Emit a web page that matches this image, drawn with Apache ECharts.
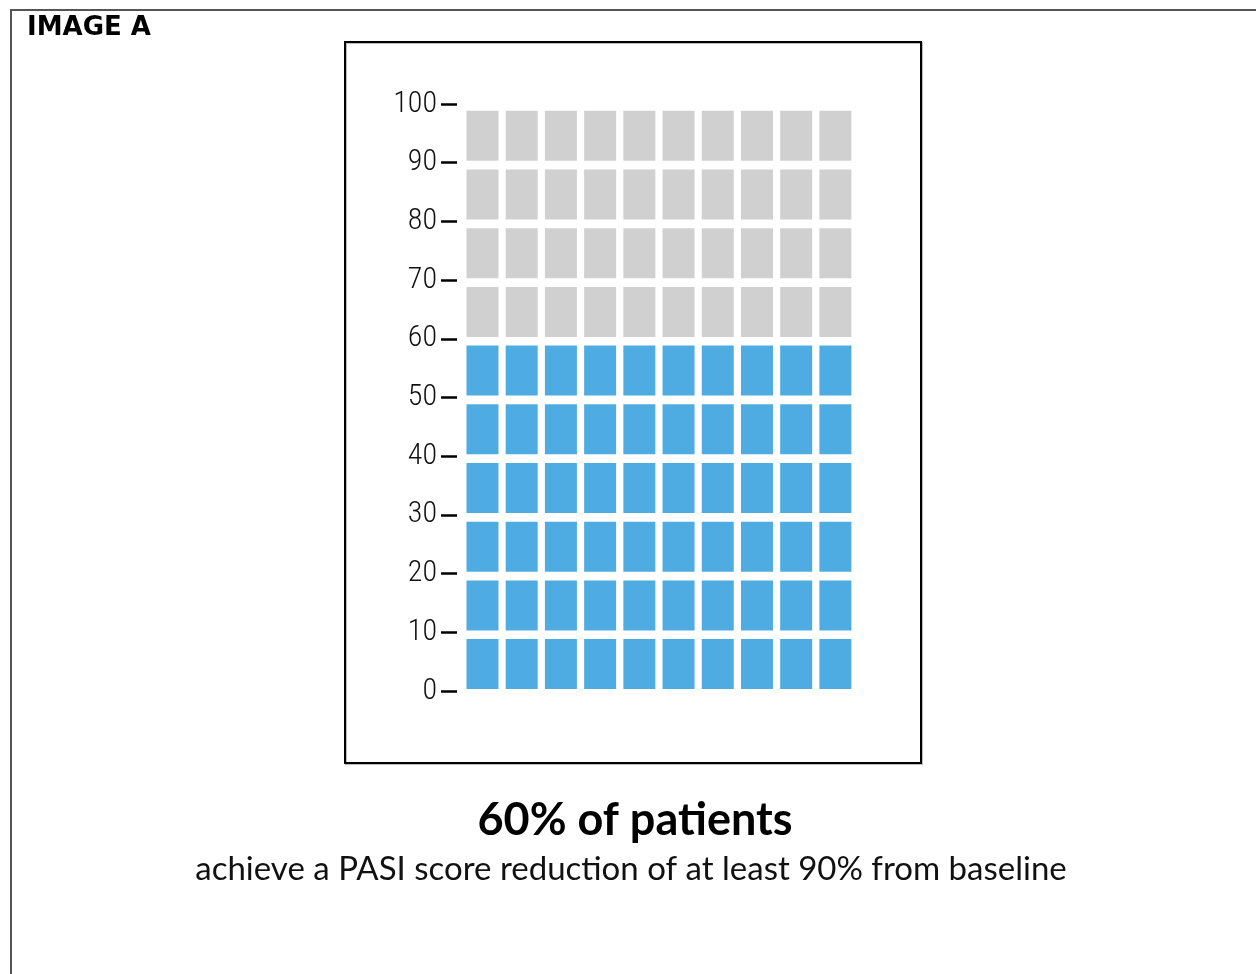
<!DOCTYPE html>
<html>
<head>
<meta charset="utf-8">
<script src="https://cdn.jsdelivr.net/npm/echarts@6/dist/echarts.min.js"></script>
<style>
html,body{margin:0;padding:0;background:#fff;}
#chart{width:1256px;height:974px;}
</style>
</head>
<body>
<div id="chart"></div>
<script>
// ---- Data ----
const categories = ['Achieve PASI 90', 'Do not achieve PASI 90'];
const percentValues = [60, 40];
const gridColumns = 10;
const yTickLabels = ['0', '10', '20', '30', '40', '50', '60', '70', '80', '90', '100'];
const panelLabel = 'IMAGE A';
const headline = '60% of patients';
const subline = 'achieve a PASI score reduction of at least 90% from baseline';

// ---- Styles ----
const catColors = ['#4FACE2', '#D0D0D0'];

const cells = [];
let idx = 0;
percentValues.forEach((v, ci) => {
  for (let k = 0; k < v; k++) {
    cells.push({
      value: [idx % gridColumns, Math.floor(idx / gridColumns), ci],
      name: categories[ci],
      itemStyle: { color: catColors[ci] }
    });
    idx++;
  }
});

const chart = echarts.init(document.getElementById('chart'), null, { renderer: 'canvas' });
chart.setOption({
  backgroundColor: '#ffffff',
  animation: false,
  grid: { left: 457, top: 104, width: 398, height: 587, containLabel: false },
  xAxis: { type: 'value', min: -0.15, max: gridColumns, show: false },
  yAxis: {
    type: 'value', min: 0, max: 100, interval: 10,
    axisLine: { show: false, onZero: false },
    splitLine: { show: false },
    axisTick: { show: true, length: 16, lineStyle: { color: '#000', width: 2.5 } },
    axisLabel: {
      margin: 20,
      fontFamily: '"Roboto Condensed", "DejaVu Sans Condensed", sans-serif',
      fontWeight: 300,
      fontSize: 30, color: '#111',
      formatter: v => yTickLabels[Math.round(v / 10)]
    }
  },
  series: [{
    type: 'custom',
    data: cells,
    renderItem: function (params, api) {
      const c = api.value(0), r = api.value(1);
      const p0 = api.coord([c + 0.092, r * 10 + 8.84]);
      const p1 = api.coord([c + 0.908, r * 10 + 0.32]);
      return {
        type: 'rect',
        shape: { x: p0[0], y: p0[1], width: p1[0] - p0[0], height: p1[1] - p0[1] },
        style: { fill: api.visual('color') }
      };
    }
  }],
  graphic: [
    { type: 'rect', z: -1, shape: { x: 11, y: 10, width: 1400, height: 1200 }, style: { fill: 'none', stroke: '#555', lineWidth: 2 } },
    { type: 'rect', z: -1, shape: { x: 346, y: 43, width: 576, height: 721 }, style: { fill: 'none', stroke: '#bbb', lineWidth: 2 } },
    { type: 'rect', z: 0, shape: { x: 345, y: 42, width: 576, height: 721 }, style: { fill: 'none', stroke: '#000', lineWidth: 2 } },
    { type: 'text', x: 27, y: 15, style: { text: panelLabel, font: 'bold 26px "DejaVu Sans"', fill: '#000' } },
    { type: 'text', x: 635, y: 843, style: { text: headline, font: 'bold 45px Lato', fill: '#000', textAlign: 'center', textVerticalAlign: 'bottom' } },
    { type: 'text', x: 631, y: 886, style: { text: subline, font: '33px Lato', fill: '#111', textAlign: 'center', textVerticalAlign: 'bottom' } }
  ]
});
</script>
</body>
</html>
